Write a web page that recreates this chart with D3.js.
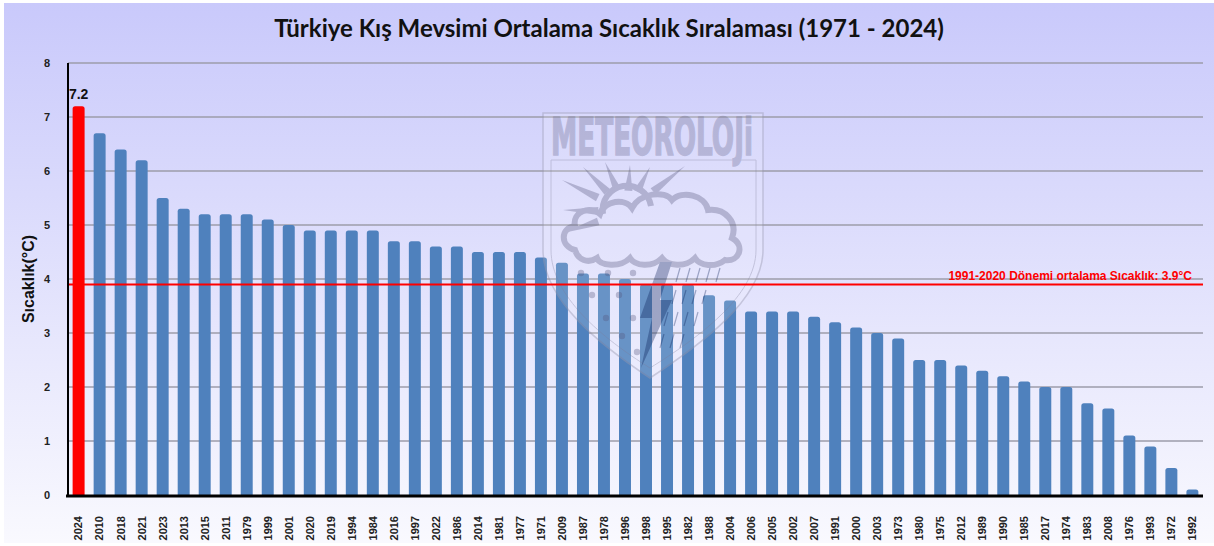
<!DOCTYPE html>
<html>
<head>
<meta charset="utf-8">
<script src="https://cdn.jsdelivr.net/npm/d3@7"></script>
<style>
  html, body { margin: 0; padding: 0; background: #fff; }
  svg { display: block; }
</style>
</head>
<body>
<div id="chart"></div>
<script>
// winter rank data, warmest first
const years = ['2024','2010','2018','2021','2023','2013','2015','2011','1979','1999',
  '2001','2020','2019','1994','1984','2016','1997','2022','1986','2014',
  '1981','1977','1971','2009','1987','1978','1996','1998','1995','1982',
  '1988','2004','2006','2005','2002','2007','1991','2000','2003','1973',
  '1980','1975','2012','1989','1990','1985','2017','1974','1983','2008',
  '1976','1993','1972','1992'];
const temps = [7.2, 6.7, 6.4, 6.2, 5.5, 5.3, 5.2, 5.2, 5.2, 5.1,
  5.0, 4.9, 4.9, 4.9, 4.9, 4.7, 4.7, 4.6, 4.6, 4.5,
  4.5, 4.5, 4.4, 4.3, 4.1, 4.1, 4.0, 3.9, 3.9, 3.9,
  3.7, 3.6, 3.4, 3.4, 3.4, 3.3, 3.2, 3.1, 3.0, 2.9,
  2.5, 2.5, 2.4, 2.3, 2.2, 2.1, 2.0, 2.0, 1.7, 1.6,
  1.1, 0.9, 0.5, 0.1];
const yTicks = [0, 1, 2, 3, 4, 5, 6, 7, 8];
const normal = 3.9;
const normalLabel = '1991-2020 Dönemi ortalama Sıcaklık: 3.9°C';
const title = 'Türkiye Kış Mevsimi Ortalama Sıcaklık Sıralaması (1971 - 2024)';
const yTitle = 'Sıcaklık(°C)';
const highlight = '2024';

const W = 1214, H = 546;
const m = { left: 68, right: 11, top: 63, bottom: 51 };

const svg = d3.select('#chart').append('svg').attr('width', W).attr('height', H);

// background
const defs = svg.append('defs');
const grad = defs.append('linearGradient').attr('id', 'bg').attr('x1', 0).attr('y1', 0).attr('x2', 0).attr('y2', 1);
grad.append('stop').attr('offset', '0%').attr('stop-color', '#c9c9fb');
grad.append('stop').attr('offset', '100%').attr('stop-color', '#f9f9fe');
svg.append('rect').attr('x', 4).attr('y', 3).attr('width', W - 4).attr('height', H - 6).attr('fill', 'url(#bg)');

const x = d3.scaleBand().domain(years).range([m.left, W - m.right]).paddingInner(0.43).paddingOuter(0.22);
const y = d3.scaleLinear().domain([0, 8]).range([H - m.bottom, m.top]);

// grid
svg.append('g').selectAll('line').data(yTicks.filter(d => d > 0)).enter().append('line')
  .attr('x1', m.left).attr('x2', W - m.right)
  .attr('y1', d => y(d)).attr('y2', d => y(d))
  .attr('stroke', '#9d9daa').attr('stroke-width', 1.5);

// y tick labels
svg.append('g').selectAll('text').data(yTicks).enter().append('text')
  .attr('x', 47).attr('y', d => y(d)).attr('dy', '0.35em')
  .attr('text-anchor', 'middle')
  .style('font', 'bold 11px "Liberation Sans", Arial, sans-serif').style('fill', '#222')
  .text(d => d);

// bars with rounded tops
function barPath(d, i) {
  const x0 = x(years[i]), w = x.bandwidth(), y0 = y(0), y1 = y(d);
  const r = Math.min(2.5, (y0 - y1) / 2);
  return 'M' + x0 + ',' + y0 + 'V' + (y1 + r) +
    'Q' + x0 + ',' + y1 + ' ' + (x0 + r) + ',' + y1 +
    'H' + (x0 + w - r) + 'Q' + (x0 + w) + ',' + y1 + ' ' + (x0 + w) + ',' + (y1 + r) +
    'V' + y0 + 'Z';
}
svg.append('g').selectAll('path').data(temps).enter().append('path')
  .attr('d', barPath)
  .attr('fill', (d, i) => years[i] === highlight ? '#ff0000' : '#4f81bd');

// value label on highlighted bar
const hi = years.indexOf(highlight);
svg.append('text')
  .attr('x', x(highlight) + x.bandwidth() / 2).attr('y', y(temps[hi]) - 7)
  .attr('text-anchor', 'middle')
  .style('font', 'bold 14px "Liberation Sans", Arial, sans-serif').style('fill', '#111')
  .text(temps[hi].toFixed(1));

// watermark logo
const wm = svg.append('g').attr('opacity', 0.42);
const shield = 'M543,113 H763 V250 C763,300 700,345 650,378 C600,345 543,300 543,250 Z';
wm.append('path').attr('d', shield).attr('fill', '#ffffff').attr('fill-opacity', 0.35)
  .attr('stroke', '#9a9ab0').attr('stroke-width', 1.5);
wm.append('path').attr('d', 'M551,160 H756 V250 C756,296 698,338 650,368 C602,338 551,296 551,250 Z')
  .attr('fill', 'none').attr('stroke', '#9a9ab0').attr('stroke-width', 1);
wm.append('text').attr('x', 652).attr('y', 155).attr('text-anchor', 'middle')
  .attr('textLength', 202).attr('lengthAdjust', 'spacingAndGlyphs')
  .style('font', 'bold 52px "DejaVu Sans Condensed", "Liberation Sans Narrow", sans-serif')
  .style('fill', '#8a8aa8').style('stroke', '#8a8aa8').style('stroke-width', 1.5).text('METEOROLOJi');
const sun = [627, 212];
const rays = [[562,180],[583,167],[605,162],[630,165],[650,167],[685,166],[563,210],[563,233]];
wm.append('g').selectAll('path').data(rays).enter().append('path')
  .attr('d', d => {
    const dx = d[0] - sun[0], dy = d[1] - sun[1], L = Math.hypot(dx, dy);
    const nx = -dy / L * 4, ny = dx / L * 4;
    const bx = sun[0] + dx * 0.45, by = sun[1] + dy * 0.45;
    return 'M' + (bx + nx) + ',' + (by + ny) + 'L' + d[0] + ',' + d[1] + 'L' + (bx - nx) + ',' + (by - ny) + 'Z';
  })
  .attr('fill', '#7a7a98');
wm.append('path').attr('d', 'M603,214 A24,24 0 0 1 651,206')
  .attr('fill', 'none').attr('stroke', '#7a7a98').attr('stroke-width', 6);
wm.append('path')
  .attr('d', 'M575,250 C560,246 560,228 575,226 C572,212 590,205 600,214 C605,200 625,198 632,208 ' +
    'C640,193 665,190 672,200 C682,190 705,195 708,210 C725,208 738,222 732,238 ' +
    'C745,245 740,262 725,260 C715,268 700,266 695,258 C685,268 668,266 662,258 ' +
    'C652,268 635,266 630,258 C620,268 600,266 597,258 C588,264 578,260 575,250 Z')
  .attr('fill', 'none').attr('stroke', '#7a7a98').attr('stroke-width', 6);
wm.append('path').attr('d', 'M660,262 L640,318 L652,318 L641,368 L672,300 L660,300 L672,262 Z')
  .attr('fill', '#3e4e7a');
const rain = [[680,268],[690,268],[700,268],[710,268],[720,268],[676,290],[686,290],[696,290],[706,290],
  [668,312],[678,312],[688,312],[698,312],[664,334],[674,334],[684,334]];
wm.append('g').selectAll('line').data(rain).enter().append('line')
  .attr('x1', d => d[0]).attr('y1', d => d[1]).attr('x2', d => d[0] - 4).attr('y2', d => d[1] + 14)
  .attr('stroke', '#3e4e7a').attr('stroke-width', 1.2);
const dots = [[581,273],[608,273],[633,273],[592,295],[619,295],[606,318],[633,318],[622,336],[637,352]];
wm.append('g').selectAll('circle').data(dots).enter().append('circle')
  .attr('cx', d => d[0]).attr('cy', d => d[1]).attr('r', 3.2).attr('fill', '#7a7a98');

// normal line
svg.append('line')
  .attr('x1', m.left).attr('x2', W - m.right)
  .attr('y1', y(normal)).attr('y2', y(normal))
  .attr('stroke', '#ff0000').attr('stroke-width', 2);
svg.append('text')
  .attr('x', 1192).attr('y', y(normal) - 4).attr('text-anchor', 'end')
  .style('font', 'bold 12px "Liberation Sans", Arial, sans-serif').style('fill', '#ff0000')
  .text(normalLabel);

// axes lines
svg.append('line').attr('x1', m.left).attr('x2', m.left).attr('y1', m.top).attr('y2', y(0))
  .attr('stroke', '#000').attr('stroke-width', 2);
svg.append('line').attr('x1', m.left - 2).attr('x2', W - m.right).attr('y1', y(0) + 1).attr('y2', y(0) + 1)
  .attr('stroke', '#000').attr('stroke-width', 3);

// x labels
svg.append('g').selectAll('text').data(years).enter().append('text')
  .attr('transform', d => 'translate(' + (x(d) + x.bandwidth() / 2) + ',516) rotate(-90)')
  .attr('dy', '0.35em').attr('text-anchor', 'end')
  .style('font', 'bold 11px "Liberation Sans", Arial, sans-serif').style('fill', '#222')
  .text(d => d);

// y title
svg.append('text')
  .attr('transform', 'translate(34,279) rotate(-90)')
  .attr('text-anchor', 'middle')
  .style('font', 'bold 16px "Liberation Sans", Arial, sans-serif').style('fill', '#111')
  .text(yTitle);

// title
svg.append('text')
  .attr('x', 609).attr('y', 37).attr('text-anchor', 'middle')
  .style('font', 'bold 24px Lato, "Open Sans", sans-serif').style('fill', '#111')
  .text(title);
</script>
</body>
</html>
